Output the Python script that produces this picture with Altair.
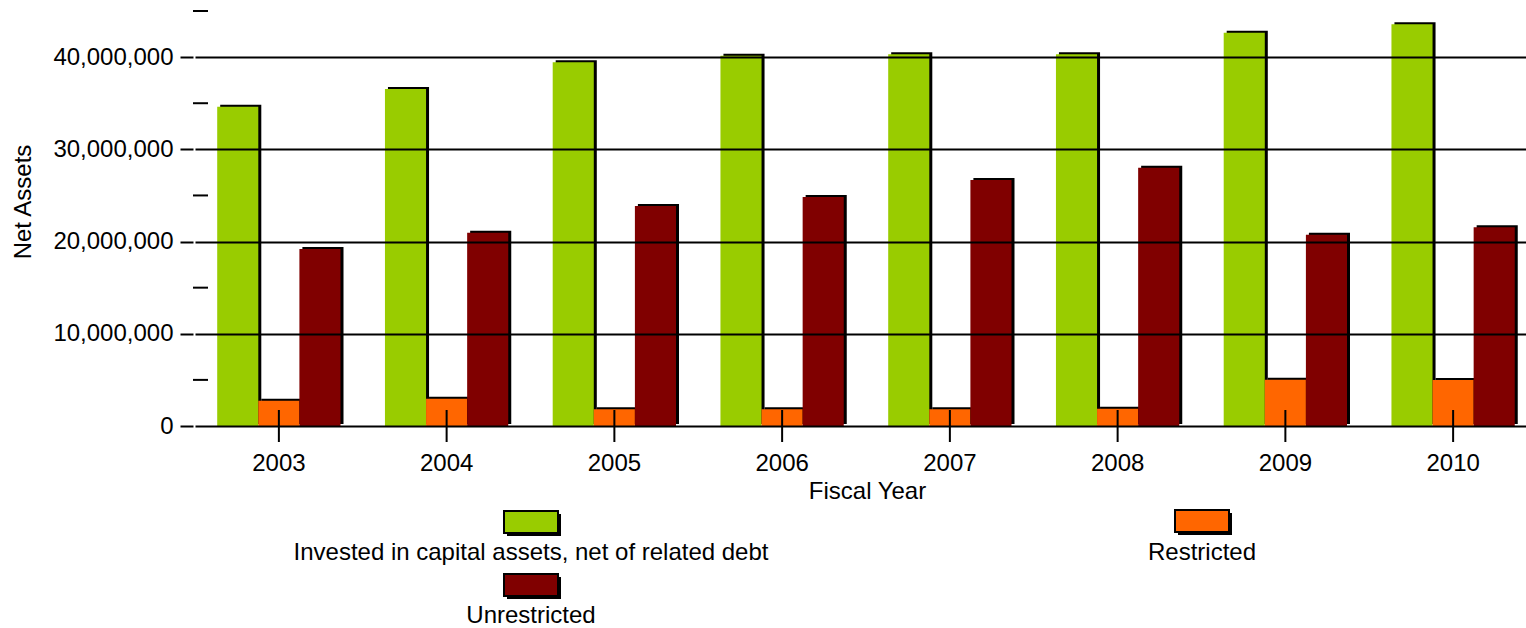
import altair as alt
import pandas as pd

years = ["2003", "2004", "2005", "2006", "2007", "2008", "2009", "2010"]
series = ["Invested in capital assets, net of related debt", "Restricted", "Unrestricted"]
colors = ["#99CC00", "#FF6600", "#800000"]
invested = [34620000, 36540000, 39440000, 40150000, 40300000, 40300000, 42650000, 43560000]
restricted = [2740000, 2960000, 1810000, 1810000, 1810000, 1880000, 5020000, 5000000]
unrestricted = [19190000, 20960000, 23860000, 24830000, 26670000, 28010000, 20750000, 21540000]
y_major = [0, 10000000, 20000000, 30000000, 40000000]
y_minor = [5000000, 15000000, 25000000, 35000000, 45000000]

rows = []
for name, vals in zip(series, [invested, restricted, unrestricted]):
    for yr, v in zip(years, vals):
        rows.append({"year": yr, "series": name, "value": v})
df = pd.DataFrame(rows)

FONT = "Liberation Sans"
color_scale = alt.Scale(domain=series, range=colors)

x_enc = alt.X(
    "year:N",
    sort=years,
    scale=alt.Scale(range=[2, 1344], paddingInner=0, paddingOuter=0),
    axis=alt.Axis(
        labelFontSize=24, labelFont=FONT, labelColor="black", labelAngle=0,
        labelPadding=37, labelBaseline="middle", ticks=False, domain=False,
        title="Fiscal Year", titleFont=FONT, titleFontSize=24, titleFontWeight="normal",
        titleColor="black", titleX=674, titleY=65, titleBaseline="middle", titleAlign="center",
    ),
)
y_enc = alt.Y(
    "value:Q",
    scale=alt.Scale(domain=[0, 45000000], nice=False),
    axis=alt.Axis(
        values=y_major, format=",d", grid=True, gridColor="black", gridWidth=2,
        tickSize=13, tickWidth=2, tickColor="black", labelPadding=7,
        labelFontSize=24, labelFont=FONT, labelColor="black", domain=False,
        title="Net Assets", titleFont=FONT, titleFontSize=24, titleFontWeight="normal",
        titleColor="black", titleX=-170, titleY=190.5, titleAngle=270,
        titleAlign="center", titleBaseline="middle", zindex=1,
    ),
)

shadows = alt.Chart(df).mark_bar(color="black", yOffset=-2).encode(
    x=x_enc,
    y=y_enc,
    xOffset=alt.XOffset("series:N", sort=series,
                        scale=alt.Scale(range=[25.2, 148.5], paddingInner=0, paddingOuter=0)),
)
bars = alt.Chart(df).mark_bar().encode(
    x=x_enc,
    y=y_enc,
    xOffset=alt.XOffset("series:N", sort=series,
                        scale=alt.Scale(range=[22.2, 145.5], paddingInner=0, paddingOuter=0)),
    color=alt.Color("series:N", scale=color_scale, legend=None),
)

years_df = pd.DataFrame({"year": years})
xticks = alt.Chart(years_df).mark_rule(color="black", strokeWidth=2).encode(
    x=alt.X("year:N", sort=years, bandPosition=0.5),
    y=alt.value(399), y2=alt.value(431),
)

minor_df = pd.DataFrame({"value": y_minor})
yminor = alt.Chart(minor_df).mark_rule(color="black", strokeWidth=2).encode(
    y="value:Q", x=alt.value(0), x2=alt.value(15),
)

legend_pos = {
    series[0]: (311, 500, 338, 542),
    series[1]: (982, 499, 1009, 542),
    series[2]: (311, 563, 338, 605),
}
legend_layers = []
for name in series:
    sx, sy, tx, ty = legend_pos[name]
    ldf = pd.DataFrame({"series": [name]})
    base = alt.Chart(ldf)
    legend_layers.append(base.mark_rect(color="black").encode(
        x=alt.value(sx + 3), x2=alt.value(sx + 57), y=alt.value(sy + 3), y2=alt.value(sy + 25)))
    legend_layers.append(base.mark_rect(stroke="black", strokeWidth=2).encode(
        x=alt.value(sx), x2=alt.value(sx + 54), y=alt.value(sy), y2=alt.value(sy + 22),
        color=alt.Color("series:N", scale=color_scale, legend=None)))
    legend_layers.append(base.mark_text(font=FONT, fontSize=24, color="black",
                                        align="center", baseline="middle").encode(
        x=alt.value(tx), y=alt.value(ty), text="series:N"))

chart = alt.layer(shadows, bars, xticks, yminor, *legend_layers).resolve_scale(
    xOffset="independent"
).properties(
    width=1333, height=415,
    autosize=alt.AutoSizeParams(type="none"),
    padding={"left": 193, "top": 11, "right": 0, "bottom": 202},
    background="white",
).configure(font=FONT).configure_view(stroke=None, strokeWidth=0)

chart.save("out.html", embed_options={"renderer": "svg", "actions": False})
